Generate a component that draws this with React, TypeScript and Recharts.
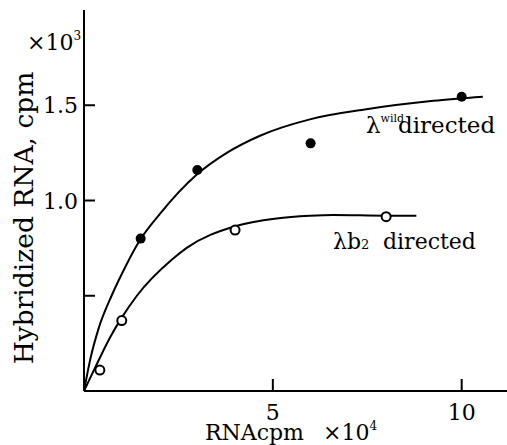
import { ComposedChart, Line, Scatter, XAxis, YAxis, Customized } from 'recharts';

// measured points (x: RNA cpm x10^4, y: hybridized cpm x10^3)
const wildX = [1.5, 3.0, 6.0, 10.0];
const wildY = [0.8, 1.16, 1.3, 1.545];
const b2X = [0.42, 1.0, 4.0, 8.0];
const b2Y = [0.11, 0.37, 0.845, 0.915];

// hand-drawn fitted curves
const wildCurveX = [0, 0.17, 0.39, 0.73, 1.09, 1.49, 2.01, 2.98, 3.78, 4.66, 5.98, 7.48, 9.25, 10.56];
const wildCurveY = [0, 0.17, 0.33, 0.5, 0.65, 0.795, 0.93, 1.135, 1.25, 1.34, 1.426, 1.479, 1.523, 1.545];
const b2CurveX = [0, 0.3, 0.7, 1.0, 1.4, 2.33, 2.72, 4.0, 5.1, 5.98, 6.6, 8.0, 8.8];
const b2CurveY = [0, 0.125, 0.285, 0.385, 0.5, 0.69, 0.751, 0.865, 0.906, 0.92, 0.924, 0.92, 0.92];

const xTicks = [5, 10];
const yTicks = [0.5, 1.0, 1.5];
const yTickLabels: Record<string, string> = { '1': '1.0', '1.5': '1.5' };

const zip = (xs: number[], ys: number[]) => xs.map((x, i) => ({ x, y: ys[i] }));

const FONT = '"DejaVu Serif", serif';

// tick marks point inward, so they are drawn together with the label
const XTick = (props: any) => {
  const { x, y, payload } = props;
  return (
    <g>
      <rect x={x - 1} y={y - 12} width={2} height={12} fill="#000" />
      <text x={x} y={y + 29} textAnchor="middle" fontFamily={FONT} fontSize={22} fill="#000">
        {payload.value}
      </text>
    </g>
  );
};

const YTick = (props: any) => {
  const { x, y, payload } = props;
  const label = yTickLabels[String(payload.value)];
  return (
    <g>
      <rect x={x} y={y - 1} width={11} height={2} fill="#000" />
      {label && (
        <text x={x - 6} y={y + 8} textAnchor="end" fontFamily={FONT} fontSize={22} fill="#000">
          {label}
        </text>
      )}
    </g>
  );
};

const OpenDot = (props: any) => (
  <circle cx={props.cx} cy={props.cy} r={4.5} fill="#fff" stroke="#000" strokeWidth={2} />
);
const FilledDot = (props: any) => <circle cx={props.cx} cy={props.cy} r={5} fill="#000" />;

// titles, unit markers and curve labels
const Annotations = () => (
  <g fontFamily={FONT} fill="#000">
    <text x={33} y={218} transform="rotate(-90 33 218)" textAnchor="middle" fontSize={26.5}>
      Hybridized RNA, cpm
    </text>
    <text x={27} y={50} fontSize={22}>
      ×10<tspan fontSize={12} dy={-10}>3</tspan>
    </text>
    <text x={205} y={440} fontSize={22}>
      RNAcpm
      <tspan x={323}>×10</tspan>
      <tspan fontSize={12} dy={-10}>4</tspan>
    </text>
    <text x={366} y={133} fontSize={23}>
      λ<tspan fontSize={11} dy={-11}>wild</tspan>
      <tspan x={398} dy={11}>directed</tspan>
    </text>
    <text x={333} y={249} fontSize={22}>
      λb<tspan fontSize={13}>2</tspan>
      <tspan x={383}>directed</tspan>
    </text>
  </g>
);

const axisStroke = { stroke: '#000', strokeWidth: 2 };

export default function App() {
  return (
    <div style={{ position: 'absolute', left: 0, top: 0, background: '#fff' }}>
      <ComposedChart width={507} height={445} margin={{ top: 10, right: 0, left: 0, bottom: 0 }}>
        <XAxis
          type="number"
          dataKey="x"
          domain={[0, 11.2]}
          ticks={xTicks}
          height={54}
          tickSize={0}
          tickMargin={0}
          tickLine={false}
          axisLine={axisStroke}
          tick={<XTick />}
          allowDataOverflow
        />
        <YAxis
          type="number"
          dataKey="y"
          domain={[0, 2]}
          ticks={yTicks}
          width={84}
          tickSize={0}
          tickMargin={0}
          tickLine={false}
          axisLine={axisStroke}
          tick={<YTick />}
          allowDataOverflow
        />
        <Line
          data={zip(wildCurveX, wildCurveY)}
          dataKey="y"
          type="monotone"
          stroke="#000"
          strokeWidth={2}
          dot={false}
          isAnimationActive={false}
        />
        <Line
          data={zip(b2CurveX, b2CurveY)}
          dataKey="y"
          type="monotone"
          stroke="#000"
          strokeWidth={2}
          dot={false}
          isAnimationActive={false}
        />
        <Scatter data={zip(wildX, wildY)} dataKey="y" shape={<FilledDot />} isAnimationActive={false} />
        <Scatter data={zip(b2X, b2Y)} dataKey="y" shape={<OpenDot />} isAnimationActive={false} />
        <Customized component={<Annotations />} />
      </ComposedChart>
    </div>
  );
}
